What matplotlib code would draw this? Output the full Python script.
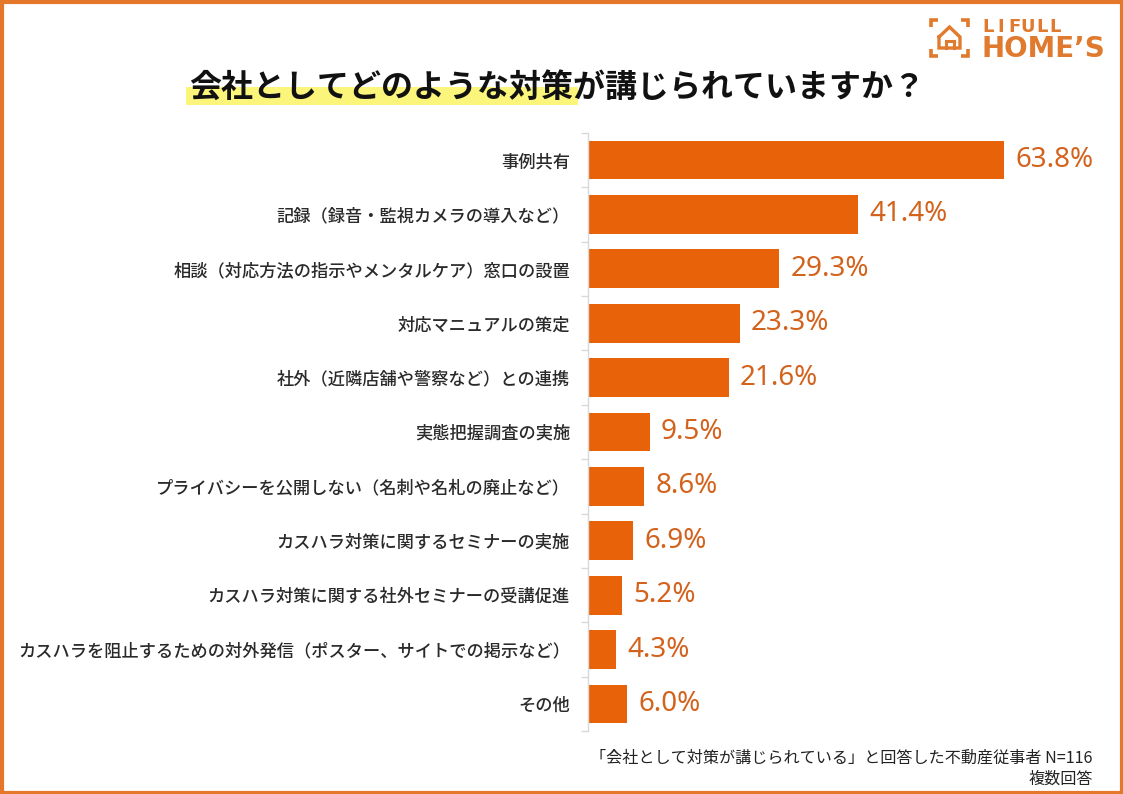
import matplotlib
matplotlib.use("Agg")
import matplotlib.pyplot as plt
from matplotlib.patches import Rectangle
from matplotlib.ticker import FixedLocator

plt.rcParams['font.family'] = ['Noto Sans CJK JP', 'DejaVu Sans']

categories = [
    "事例共有",
    "記録（録音・監視カメラの導入など）",
    "相談（対応方法の指示やメンタルケア）窓口の設置",
    "対応マニュアルの策定",
    "社外（近隣店舗や警察など）との連携",
    "実態把握調査の実施",
    "プライバシーを公開しない（名刺や名札の廃止など）",
    "カスハラ対策に関するセミナーの実施",
    "カスハラ対策に関する社外セミナーの受講促進",
    "カスハラを阻止するための対外発信（ポスター、サイトでの掲示など）",
    "その他",
]
values = [63.8, 41.4, 29.3, 23.3, 21.6, 9.5, 8.6, 6.9, 5.2, 4.3, 6.0]

title = "会社としてどのような対策が講じられていますか？"
note1 = "「会社として対策が講じられている」と回答した不動産従事者 N=116"
note2 = "複数回答"

BAR = "#e8620a"
VAL = "#d3621c"
LOGO = "#e07a2e"

W, H = 1123, 794
fig = plt.figure(figsize=(W / 100, H / 100), dpi=100)

# decoration overlay in pixel coordinates
deco = fig.add_axes([0, 0, 1, 1], zorder=0)
deco.set_xlim(0, W)
deco.set_ylim(H, 0)
deco.axis("off")
deco.add_patch(Rectangle((1.5, 1.5), W - 3, H - 3, fill=False, ec="#e4772a", lw=3))
deco.add_patch(Rectangle((186, 87), 392, 18, fc="#fcf57c", ec="none"))
deco.text(557, 88, title, ha="center", va="center", fontsize=23,
          fontweight="bold", color="#111111")

# logo icon
bl, br, bt, bb = 931, 968, 20, 56
k = 7
for (x0, y0, dx, dy) in [(bl, bt, 1, 1), (br, bt, -1, 1), (bl, bb, 1, -1), (br, bb, -1, -1)]:
    deco.plot([x0 + dx * k, x0, x0], [y0, y0, y0 + dy * k], color=LOGO, lw=2.6,
              solid_capstyle="butt", solid_joinstyle="miter")
deco.plot([939, 949.5, 960, 960, 939, 939], [37, 27, 37, 48, 48, 37], color=LOGO, lw=2.4,
          solid_joinstyle="miter")
deco.plot([945.5, 945.5], [48, 41], color=LOGO, lw=2.2)
deco.plot([953.5, 953.5], [48, 41], color=LOGO, lw=2.2)
deco.plot([945.5, 953.5], [41, 41], color=LOGO, lw=2.2)
lifull = "LIFULL"
lifull_x = [988, 1001, 1014, 1028, 1042, 1055]
for ch, xc in zip(lifull, lifull_x):
    deco.text(xc, 27, ch, ha="center", va="center", fontsize=13,
              fontweight="bold", color=LOGO, family="DejaVu Sans")
deco.text(982, 49, "HOME’S", ha="left", va="center", fontsize=20,
          fontweight="bold", color=LOGO, family="DejaVu Sans")

deco.text(1093, 758, note1, ha="right", va="center", fontsize=11.6, color="#222222")
deco.text(1093, 779, note2, ha="right", va="center", fontsize=11.6, color="#222222")

# main chart
left = 588 / W
width = 80 * 6.52 / W
y_top = 160 - 27.2
y_bot = 704 + 27.2
ax = fig.add_axes([left, 1 - y_bot / H, width, (y_bot - y_top) / H], zorder=1)
ax.patch.set_alpha(0)
pos = list(range(len(categories)))
ax.barh(pos, values, height=0.71, color=BAR)
ax.set_xlim(0, 80)
ax.set_ylim(len(categories) - 0.5, -0.5)
for s in ["top", "right", "bottom"]:
    ax.spines[s].set_visible(False)
ax.spines["left"].set_color("#d9d9d9")
ax.spines["left"].set_linewidth(1)
ax.set_xticks([])
ax.set_yticks(pos)
ax.set_yticklabels(categories, fontsize=12.4, color="#2a2a2a", fontweight="medium")
ax.tick_params(axis="y", which="major", length=0, pad=13)
ax.yaxis.set_minor_locator(FixedLocator([i - 0.5 for i in range(len(categories) + 1)]))
ax.tick_params(axis="y", which="minor", length=5, color="#d9d9d9", width=1)
for p, v in zip(pos, values):
    ax.annotate(f"{v:.1f}%", (v, p), xytext=(8, 0), textcoords="offset points",
                ha="left", va="center", fontsize=20, color=VAL, family="Noto Sans")

fig.savefig("out.png", dpi=100)
